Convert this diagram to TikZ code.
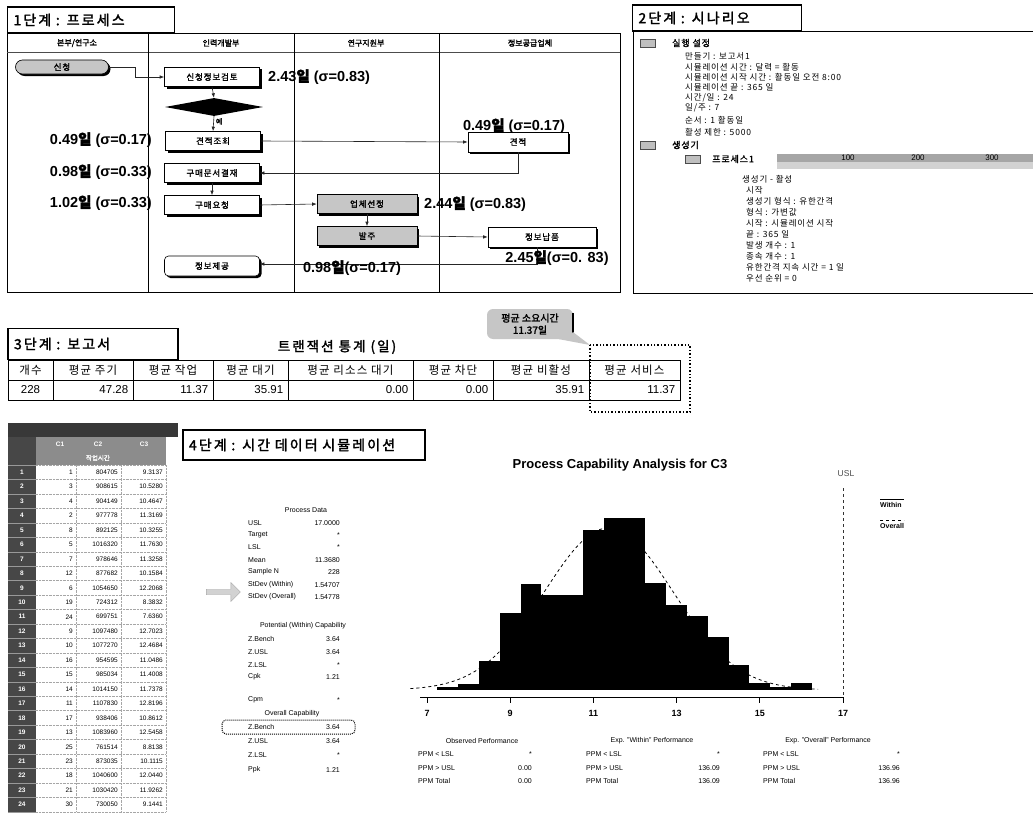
\documentclass[tikz,border=0pt]{standalone}
\usepackage{fontspec}
\setmainfont{Liberation Sans}
\newfontfamily\kr{Noto Sans CJK KR}
\newfontfamily\krb{Noto Sans CJK KR}[FakeBold=2]
\newfontfamily\krw{Noto Sans CJK KR}[FakeBold=2, LetterSpace=15]
\newfontfamily\krs{Noto Sans CJK KR}[LetterSpace=10]
\newfontfamily\krsb{Noto Sans CJK KR}[FakeBold=1.5, LetterSpace=10]
\usetikzlibrary{shapes.geometric,shapes.arrows,shadows,arrows.meta,calc}
\newcommand\dayk{{\krb 일}}
\tikzset{
  panel/.style={draw=black, line width=0.9pt},
  stagebox/.style={draw=black, line width=1.2pt, fill=white, inner xsep=6pt, inner ysep=0pt,
    minimum height=26pt, text width=155pt, align=left, font=\krw\fontsize{14}{14}\selectfont},
  lane/.style={font=\krb\fontsize{8}{8}\selectfont, inner sep=0},
  procbox/.style={draw=black, fill=white, line width=0.6pt, inner sep=0, minimum width=95pt,
    minimum height=19pt, font=\krsb\fontsize{8.5}{8.5}\selectfont,
    drop shadow={shadow xshift=2pt, shadow yshift=-2pt, fill=black, opacity=1}},
  graybox/.style={procbox, fill=gray!45},
  conn/.style={draw=black!85, line width=0.6pt, -{Latex[length=4.5pt,width=3.5pt]}},
  lbl/.style={font=\bfseries\fontsize{14.5}{14.5}\selectfont, inner sep=0},
  sc/.style={font=\krs\fontsize{8.5}{8.5}\selectfont, anchor=west, inner sep=0},
  scb/.style={font=\krsb\fontsize{9}{9}\selectfont, anchor=west, inner sep=0},
  gen/.style={font=\krs\fontsize{8.5}{8.5}\selectfont, anchor=west, inner sep=0},
  icon/.style={draw=black!70, fill=gray!50, minimum width=15pt, minimum height=8pt, inner sep=0},
  cell/.style={draw=black, line width=0.9pt, inner sep=0, minimum height=20pt, font=\krs\fontsize{11.5}{11.5}\selectfont},
  val/.style={font=\fontsize{11.5}{11.5}\selectfont, inner sep=0, anchor=east},
  ssnum/.style={font=\fontsize{6.5}{6.5}\selectfont, inner sep=0, anchor=east},
  sshdr/.style={font=\bfseries\fontsize{6.5}{6.5}\selectfont, text=white, inner sep=0},
  pd/.style={font=\fontsize{7}{7}\selectfont, inner sep=0},
  pdl/.style={pd, anchor=west},
  pdv/.style={pd, anchor=east},
}
\begin{document}
\begin{tikzpicture}[x=1pt,y=-1pt]
\useasboundingbox (0,0) rectangle (1033,816);
\fill[white] (0,0) rectangle (1033,816);

% ===================== Stage 1: process =====================
\draw[panel] (7,33) rectangle (620,292);
\draw[line width=0.5pt, black!70] (7,52) -- (620,52);
\foreach \xx in {148,294,439} \draw[line width=0.7pt] (\xx,33) -- (\xx,292);
\node[stagebox] (s1) at (91,20) {1단계 : 프로세스};
\node[lane] (l1) at (77,43) {본부/연구소};
\node[lane] (l2) at (221,43) {인력개발부};
\node[lane] (l3) at (366,43) {연구지원부};
\node[lane] (l4) at (530,43) {정보공급업체};

\node[graybox, minimum width=93pt, minimum height=14pt, rounded corners=7pt] (app) at (62,67) {신청};
\node[procbox] (review) at (212,77) {신청정보검토};
\node[diamond, fill=black, minimum width=98pt, minimum height=18pt, inner sep=0, aspect=5] (dec) at (214,107) {};
\node[procbox] (qreq) at (213,141) {견적조회};
\node[procbox] (appr) at (212,173) {구매문서결재};
\node[procbox] (preq) at (212,205) {구매요청};
\node[procbox, rounded corners=4pt, minimum height=20pt] (prov) at (212,266) {정보제공};
\node[procbox, minimum width=100pt, minimum height=20pt] (quote) at (518,142) {견적};
\node[graybox, minimum width=100pt] (vend) at (367,204) {업체선정};
\node[graybox, minimum width=100pt] (order) at (367,236) {발주};
\node[procbox, minimum width=108pt, minimum height=20pt] (deliv) at (542,237) {정보납품};

\draw[conn] (app.east) -- ++(26,0) |- (review.west);
\draw[conn] (review.south) -- (dec.north);
\draw[conn] (dec.south) -- node[right, font=\krb\fontsize{7}{7}\selectfont, inner sep=2pt, pos=0.35] (yes) {예} (qreq.north);
\draw[conn] (qreq.east) -- (quote.west);
\draw[conn] (quote.south) |- (appr.east);
\draw[conn] (appr.south) -- (preq.north);
\draw[conn] (preq.east) -- (vend.west);
\draw[conn] (vend.south) -- (order.north);
\draw[conn] (order.east) -- (deliv.west);
\draw[conn] ([xshift=-5pt]deliv.south) |- ([yshift=2pt]prov.east);

\node[lbl, anchor=west] (t1) at (268,77) {2.43\dayk{} (σ=0.83)};
\node[lbl, anchor=east] (t2) at (152,140) {0.49\dayk{} (σ=0.17)};
\node[lbl, anchor=east] (t3) at (152,172) {0.98\dayk{} (σ=0.33)};
\node[lbl, anchor=east] (t4) at (152,203) {1.02\dayk{} (σ=0.33)};
\node[lbl] (t5) at (514,126) {0.49\dayk{} (σ=0.17)};
\node[lbl, anchor=west] (t6) at (424,204) {2.44\dayk{} (σ=0.83)};
\node[lbl] (t7) at (352,268) {0.98\dayk{}(σ=0.17)};
\node[lbl] (t8) at (557,258) {2.45\dayk{}(σ=0. 83)};

% ===================== Stage 2: scenario =====================
\draw[panel] (1034,31) -- (633,31) -- (633,293) -- (1034,293);
\node[stagebox, text width=157pt] (s2) at (717,18) {2단계 : 시나리오};
\node[icon] (ic1) at (648,43) {};
\node[scb] (sc1) at (672,43) {실행 설정};
\node[sc] (sc2) at (685,56) {만들기 : 보고서1};
\node[sc] (sc3) at (685,67) {시뮬레이션 시간 : 달력 = 활동};
\node[sc] (sc4) at (685,77) {시뮬레이션 시작 시간 : 활동일  오전 8:00};
\node[sc] (sc5) at (685,87) {시뮬레이션 끝 : 365 일};
\node[sc] (sc6) at (685,98) {시간/일 : 24};
\node[sc] (sc7) at (685,108) {일/주 : 7};
\node[sc] (sc8) at (685,120) {순서 : 1 활동일};
\node[sc] (sc9) at (685,132) {활성 제한 : 5000};
\node[icon] (ic2) at (648,145) {};
\node[scb] (sc10) at (672,145) {생성기};
\node[icon] (ic3) at (693,159) {};
\node[scb] (sc11) at (712,159) {프로세스1};
\fill[gray!70] (777,154) rectangle (1033,162);
\fill[gray!35] (777,162) rectangle (1033,169);
\node[pd, font=\fontsize{8}{8}\selectfont] (b1) at (848,158) {100};
\node[pd, font=\fontsize{8}{8}\selectfont] (b2) at (918,158) {200};
\node[pd, font=\fontsize{8}{8}\selectfont] (b3) at (992,158) {300};
\node[gen] (g1) at (742,179) {생성기  -  활성};
\node[gen] (g2) at (746,190) {시작};
\node[gen] (g3) at (746,201) {생성기 형식 : 유한간격};
\node[gen] (g4) at (746,212) {형식 : 가변값};
\node[gen] (g5) at (746,223) {시작 : 시뮬레이션 시작};
\node[gen] (g6) at (746,234) {끝 : 365 일};
\node[gen] (g7) at (746,245) {발생 개수 : 1};
\node[gen] (g8) at (746,256) {종속 개수 : 1};
\node[gen] (g9) at (746,267) {유한간격 지속 시간 = 1  일};
\node[gen] (g10) at (746,278) {우선 순위 = 0};

% ===================== Stage 3: report =====================
\node[stagebox, text width=158pt, minimum height=31pt] (s3) at (93,344) {3단계 : 보고서};
\node[font=\krw\fontsize{13.5}{13.5}\selectfont] (ttl) at (337,347) {트랜잭션 통계 (일)};
\foreach \l/\r/\t [count=\i] in {8/53/개수, 53/133/평균 주기, 133/213/평균 작업,
   213/288/평균 대기, 288/413/평균 리소스 대기, 413/493/평균 차단,
   493/589/평균 비활성, 589/680/평균 서비스} {
  \node[cell, minimum width={(\r-\l)*1pt}] (h\i) at ({(\l+\r)/2},370) {\t};
  \node[cell, minimum width={(\r-\l)*1pt}] (d\i) at ({(\l+\r)/2},390) {};
}
\node[font=\fontsize{11.5}{11.5}\selectfont, inner sep=0] (v1) at (d1) {228};
\foreach \i/\v in {2/47.28,3/11.37,4/35.91,5/0.00,6/0.00,7/35.91,8/11.37}
  \node[val] (v\i) at ([xshift=-5pt]d\i.east) {\v};

\node[fill=gray!45, rounded corners=6pt, minimum width=86pt, minimum height=30pt, inner sep=1pt, align=center,
  font=\krb\fontsize{10}{12}\selectfont] (call) at (530,324) {평균 소요시간\\11.37일};
\draw[line width=1.6pt] ([yshift=-4pt]call.north east) -- ([yshift=6pt]call.south east);
\coordinate (dotTL) at (590,345);
\coordinate (dotBR) at (690,412);
\fill[gray!45] ([xshift=-14pt]call.south east) -- (dotTL) -- ([yshift=7pt]call.south east) -- cycle;
\draw[dotted, line width=1.4pt] (dotTL) rectangle (dotBR);

% ===================== Stage 4: spreadsheet =====================
\fill[black!78] (8,423) rectangle (178,437);
\fill[black!45] (36,437) rectangle (166,465);
\fill[black!72] (8,437) rectangle (36,812);
\foreach \i in {0,...,24} {
  \draw[gray!70, densely dotted, line width=0.4pt] (36,{465+14.45*\i}) -- (166,{465+14.45*\i});
  \draw[black!40, line width=0.4pt] (8,{465+14.45*\i}) -- (36,{465+14.45*\i});
}
\foreach \xx in {76,121,166} \draw[gray!70, densely dotted, line width=0.4pt] (\xx,465) -- (\xx,812);
\node[sshdr] (c1) at (60,444) {C1};
\node[sshdr] (c2) at (98,444) {C2};
\node[sshdr] (c3) at (144,444) {C3};
\node[sshdr, font=\krb\fontsize{6.5}{6.5}\selectfont] (c2b) at (98,458) {작업시간};
\foreach \a/\b/\c [count=\i] in {1/804705/9.3137, 3/908615/10.5280, 4/904149/10.4647, 2/977778/11.3169,
   8/892125/10.3255, 5/1016320/11.7630, 7/978646/11.3258, 12/877682/10.1584, 6/1054650/12.2068,
   19/724312/8.3832, 24/699751/7.6360, 9/1097480/12.7023, 10/1077270/12.4684, 16/954595/11.0486,
   15/985034/11.4008, 14/1014150/11.7378, 11/1107830/12.8196, 17/938406/10.8612, 13/1083960/12.5458,
   25/761514/8.8138, 23/873035/10.1115, 18/1040600/12.0440, 21/1030420/11.9262, 30/730050/9.1441} {
  \node[sshdr] (rh\i) at (22,{465+14.45*(\i-0.5)}) {\i};
  \node[ssnum] (ra\i) at (73,{465+14.45*(\i-0.5)}) {\a};
  \node[ssnum] (rb\i) at (118,{465+14.45*(\i-0.5)}) {\b};
  \node[ssnum] (rc\i) at (163,{465+14.45*(\i-0.5)}) {\c};
}
\node[single arrow, draw=gray!70, fill=gray!35, minimum height=34pt, minimum width=19pt,
  single arrow head extend=3pt, inner sep=1pt] (arr) at (222,592) {};

\node[stagebox, text width=230pt, minimum height=30pt] (s4) at (304,445) {4단계 : 시간 데이터 시뮬레이션};

% Process data
\node[pd] (pdt) at (306,510) {Process Data};
\foreach \l/\v/\y [count=\i] in {USL/17.0000/523, Target/*/535, LSL/*/547, Mean/11.3680/560,
   Sample N/228/572, StDev (Within)/1.54707/585, StDev (Overall)/1.54778/597} {
  \node[pdl] (pl\i) at (248,\y) {\l};
  \node[pdv] (pv\i) at (340,\y) {\v};
}
\node[pd] (pct) at (303,626) {Potential (Within) Capability};
\foreach \l/\v/\y [count=\i] in {Z.Bench/3.64/639, Z.USL/3.64/652, Z.LSL/*/665, Cpk/1.21/677, Cpm/*/700} {
  \node[pdl] (ql\i) at (248,\y) {\l};
  \node[pdv] (qv\i) at (340,\y) {\v};
}
\node[pd] (oct) at (292,714) {Overall Capability};
\foreach \l/\v/\y [count=\i] in {Z.Bench/3.64/727, Z.USL/3.64/741, Z.LSL/*/755, Ppk/1.21/770} {
  \node[pdl] (ol\i) at (248,\y) {\l};
  \node[pdv] (ov\i) at (340,\y) {\v};
}
\draw[densely dotted, line width=1pt, rounded corners=4pt] (222,720) rectangle (355,734);

% Histogram
\node[font=\bfseries\fontsize{13}{13}\selectfont, inner sep=0] (htitle) at (620,465) {Process Capability Analysis for C3};
\foreach \a/\b/\h in {7.25/7.75/3, 7.75/8.25/6, 8.25/8.75/27, 8.75/9.25/72, 9.25/9.75/99, 9.75/10.75/89,
   10.75/11.25/150, 11.25/12.25/161, 12.25/12.75/100, 12.75/13.25/79, 13.25/13.75/69, 13.75/14.25/50,
   14.25/14.75/23, 14.75/15.25/7, 15.25/15.75/3, 15.75/16.25/7}
  \fill[black] ({427+41.6*(\a-7)},690) rectangle ({427+41.6*(\b-7)},{690-1.07*\h});
\draw[dashed, line width=0.8pt] plot[domain=6.6:16.4, samples=90, smooth]
  ({427+41.6*(\x-7)},{690-162*exp(-0.5*((\x-11.368)/1.547)^2)});
\draw[line width=0.8pt] (420,697) -- (843,697);
\foreach \v in {7,9,11,13,15,17} {
  \draw[line width=0.8pt] ({427+41.6*(\v-7)},697) -- ({427+41.6*(\v-7)},703);
  \node[font=\bfseries\fontsize{9}{9}\selectfont, inner sep=0] (ax\v) at ({427+41.6*(\v-7)},713) {\v};
}
\draw[dashed, line width=0.6pt, black!80] (843,488) -- (843,697);
\node[font=\fontsize{8.5}{8.5}\selectfont, text=black!70, inner sep=0] (usl) at (846,474) {USL};
\draw[line width=0.5pt] (880,499) -- (904,499);
\node[pdl, font=\bfseries\fontsize{7}{7}\selectfont] (lw) at (880,505) {Within};
\draw[dashed, line width=0.5pt] (880,520) -- (904,520);
\node[pdl, font=\bfseries\fontsize{7}{7}\selectfont] (lo) at (880,526) {Overall};

% Performance tables
\foreach \cx/\lx/\vx/\t/\va/\vb/\vc [count=\k] in {482/418/532/Observed Performance/*/0.00/0.00,
   652/586/720/{Exp. "Within" Performance}/*/136.09/136.09,
   828/763/900/{Exp. "Overall" Performance}/*/136.96/136.96} {
  \node[pd] (pt\k) at (\cx,741) {\t};
  \node[pdl] (pa\k) at (\lx,754) {PPM < LSL};
  \node[pdv] (pva\k) at (\vx,754) {\va};
  \node[pdl] (pb\k) at (\lx,768) {PPM > USL};
  \node[pdv] (pvb\k) at (\vx,768) {\vb};
  \node[pdl] (pc\k) at (\lx,781) {PPM Total};
  \node[pdv] (pvc\k) at (\vx,781) {\vc};
}
\end{tikzpicture}
\end{document}
